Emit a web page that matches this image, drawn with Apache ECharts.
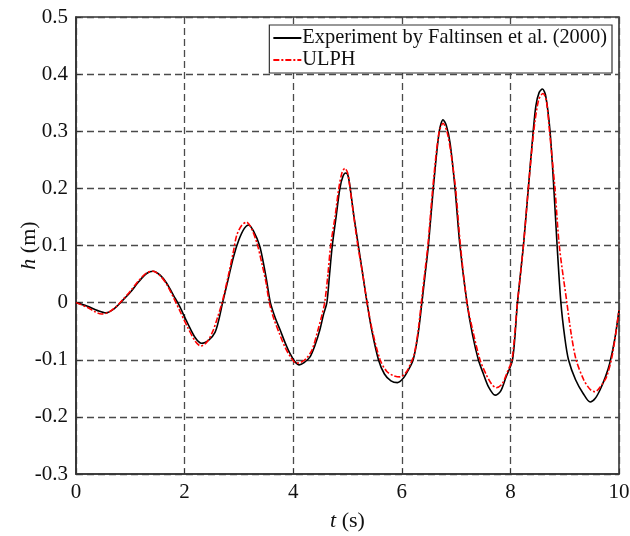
<!DOCTYPE html>
<html><head><meta charset="utf-8">
<script src="https://cdn.jsdelivr.net/npm/echarts@6/dist/echarts.min.js"></script>
<style>html,body{margin:0;padding:0;background:#fff}#c{width:630px;height:536px}</style>
</head><body><div id="c"></div>
<script>
const seriesNames = ['Experiment by Faltinsen et al. (2000)', 'ULPH'];
const xTicks = [0, 2, 4, 6, 8, 10];
const yTicks = [-0.3, -0.2, -0.1, 0, 0.1, 0.2, 0.3, 0.4, 0.5];
const experiment = [
[0,0],[0.2,-0.006],[0.4,-0.014],[0.55,-0.018],[0.7,-0.011],[0.85,0.003],[1.0,0.018],[1.15,0.036],[1.3,0.051],[1.42,0.055],[1.55,0.048],[1.67,0.034],[1.8,0.012],[1.9,-0.005],[2.05,-0.035],[2.2,-0.062],[2.31,-0.071],[2.45,-0.065],[2.56,-0.052],[2.63,-0.03],[2.7,0],[2.8,0.04],[2.9,0.08],[3.0,0.11],[3.1,0.13],[3.18,0.136],[3.27,0.125],[3.38,0.10],[3.45,0.07],[3.51,0.039],[3.58,0.0],[3.67,-0.027],[3.76,-0.048],[3.85,-0.07],[3.94,-0.089],[4.03,-0.103],[4.11,-0.109],[4.2,-0.105],[4.31,-0.095],[4.4,-0.075],[4.49,-0.048],[4.56,-0.02],[4.62,0],[4.67,0.05],[4.72,0.1],[4.79,0.15],[4.86,0.2],[4.92,0.222],[4.97,0.227],[5.01,0.222],[5.05,0.2],[5.12,0.15],[5.2,0.1],[5.28,0.05],[5.36,0],[5.45,-0.05],[5.57,-0.1],[5.68,-0.125],[5.8,-0.137],[5.92,-0.140],[6.03,-0.132],[6.12,-0.118],[6.21,-0.1],[6.3,-0.055],[6.37,0],[6.43,0.05],[6.49,0.1],[6.58,0.2],[6.69,0.3],[6.76,0.32],[6.82,0.31],[6.89,0.279],[6.98,0.2],[7.07,0.1],[7.2,0],[7.3,-0.055],[7.41,-0.1],[7.5,-0.124],[7.6,-0.148],[7.72,-0.162],[7.82,-0.155],[7.92,-0.13],[8.04,-0.1],[8.13,0],[8.24,0.1],[8.33,0.2],[8.42,0.3],[8.47,0.345],[8.53,0.368],[8.59,0.374],[8.65,0.362],[8.73,0.3],[8.8,0.2],[8.86,0.1],[8.93,0],[9.0,-0.06],[9.07,-0.1],[9.2,-0.135],[9.34,-0.159],[9.47,-0.174],[9.56,-0.168],[9.65,-0.153],[9.75,-0.13],[9.83,-0.106],[9.92,-0.065],[10,-0.013]
];
const ulph = [
[0,0],[0.2,-0.008],[0.35,-0.016],[0.47,-0.020],[0.6,-0.017],[0.75,-0.006],[0.85,0.004],[1.0,0.02],[1.15,0.038],[1.3,0.052],[1.42,0.055],[1.55,0.047],[1.67,0.032],[1.8,0.008],[1.9,-0.012],[2.05,-0.042],[2.2,-0.068],[2.3,-0.076],[2.42,-0.068],[2.52,-0.05],[2.6,-0.028],[2.69,0],[2.8,0.045],[2.9,0.09],[2.96,0.118],[3.05,0.135],[3.14,0.141],[3.22,0.132],[3.33,0.105],[3.42,0.07],[3.5,0.035],[3.56,0],[3.65,-0.03],[3.75,-0.055],[3.85,-0.078],[3.95,-0.095],[4.06,-0.106],[4.15,-0.104],[4.25,-0.097],[4.35,-0.082],[4.45,-0.05],[4.52,-0.025],[4.58,0],[4.64,0.05],[4.69,0.1],[4.77,0.15],[4.84,0.2],[4.9,0.228],[4.95,0.235],[5.0,0.228],[5.04,0.205],[5.11,0.155],[5.19,0.1],[5.28,0.05],[5.36,0],[5.46,-0.05],[5.6,-0.1],[5.72,-0.12],[5.85,-0.128],[5.97,-0.130],[6.08,-0.122],[6.17,-0.105],[6.23,-0.09],[6.3,-0.05],[6.36,0],[6.42,0.05],[6.48,0.1],[6.57,0.2],[6.68,0.295],[6.76,0.314],[6.83,0.3],[6.9,0.265],[6.99,0.2],[7.08,0.1],[7.2,0],[7.31,-0.05],[7.44,-0.1],[7.55,-0.125],[7.65,-0.142],[7.74,-0.149],[7.85,-0.142],[7.95,-0.12],[8.03,-0.1],[8.13,0],[8.24,0.1],[8.33,0.2],[8.43,0.3],[8.52,0.355],[8.6,0.366],[8.66,0.355],[8.72,0.3],[8.82,0.2],[8.9,0.1],[9.04,0],[9.12,-0.055],[9.21,-0.1],[9.35,-0.135],[9.47,-0.152],[9.56,-0.156],[9.65,-0.148],[9.77,-0.13],[9.88,-0.09],[10,-0.013]
];

const FONT = '"Liberation Serif", "Times New Roman", serif';
const gridDash = { color: '#4a4a4a', width: 1.3, type: [7, 4] };
const chart = echarts.init(document.getElementById('c'), null, { renderer: 'canvas' });
const axisCommon = {
  axisLine: { show: true, onZero: false, lineStyle: { color: '#333', width: 1.6 } },
  axisTick: { show: true, inside: true, length: 5, lineStyle: { color: '#333', width: 1 } },
  splitLine: { show: true, lineStyle: gridDash },
  axisLabel: { color: '#111', fontFamily: FONT, fontSize: 21 }
};
const nameStyle = { fontFamily: FONT, fontSize: 22, color: '#111', rich: { i: { fontFamily: FONT, fontSize: 22, fontStyle: 'italic', color: '#111' } } };
chart.setOption({
  backgroundColor: '#fff',
  animation: false,
  grid: { left: 76, right: 11, top: 17, bottom: 62, show: true, borderColor: '#333', borderWidth: 1.6, containLabel: false, outerBoundsMode: 'none' },
  legend: {
    data: seriesNames,
    orient: 'vertical',
    right: 18, top: 25,
    backgroundColor: '#fff',
    borderColor: '#333', borderWidth: 1.2, borderRadius: 0,
    padding: [3, 5, 3, 3],
    itemGap: 2, itemWidth: 28, itemHeight: 20,
    itemStyle: { color: 'rgba(0,0,0,0)', borderColor: 'rgba(0,0,0,0)', borderWidth: 0 },
    textStyle: { fontFamily: FONT, fontSize: 20.4, color: '#111', padding: [0, 0, 0, -4] }
  },
  xAxis: Object.assign({}, axisCommon, {
    type: 'value', min: xTicks[0], max: xTicks[xTicks.length - 1], interval: 2,
    axisLabel: Object.assign({}, axisCommon.axisLabel, { margin: 8 }),
    name: '{i|t} (s)', nameLocation: 'middle', nameGap: 36, nameMoveOverlap: false,
    nameTextStyle: nameStyle
  }),
  yAxis: Object.assign({}, axisCommon, {
    type: 'value', min: yTicks[0], max: yTicks[yTicks.length - 1], interval: 0.1,
    axisLabel: Object.assign({}, axisCommon.axisLabel, { margin: 8, formatter: v => String(Math.round(v * 10) / 10) }),
    name: '{i|h} (m)', nameLocation: 'middle', nameGap: 36, nameRotate: 90, nameMoveOverlap: false,
    nameTextStyle: nameStyle
  }),
  series: [
    { name: seriesNames[0], type: 'line', data: experiment, symbol: 'none', smooth: 0.3, z: 3,
      lineStyle: { color: '#000', width: 1.6 }, itemStyle: { color: '#000' } },
    { name: seriesNames[1], type: 'line', data: ulph, symbol: 'none', smooth: 0.3, z: 4,
      lineStyle: { color: '#ff0000', width: 1.6, type: [6, 2, 2, 2] }, itemStyle: { color: '#ff0000' } }
  ]
});
</script></body></html>
